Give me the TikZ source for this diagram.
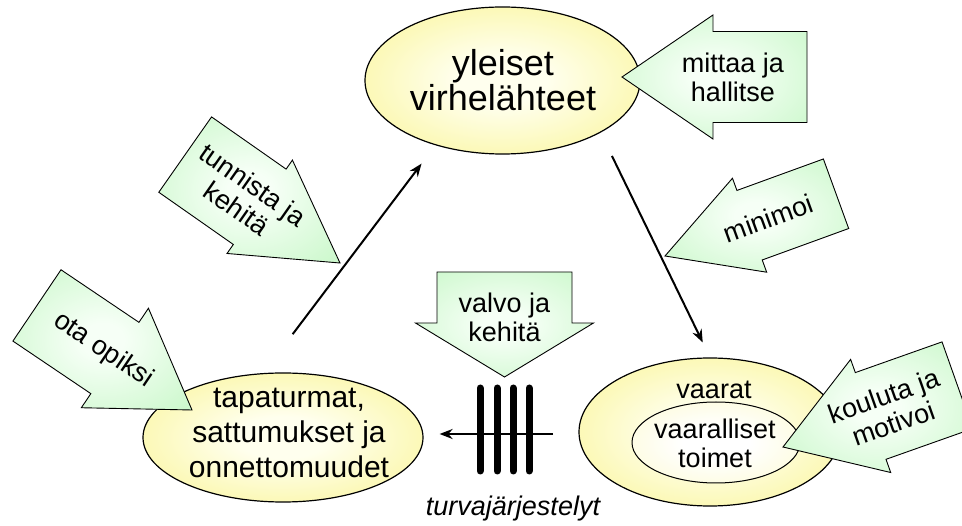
\documentclass[tikz,border=0pt]{standalone}
\usepackage{fontspec}
\setmainfont{Liberation Sans}
\usetikzlibrary{shapes.geometric,arrows.meta}

\definecolor{bubbleyellow}{RGB}{248,242,128}
\definecolor{bubblecore}{RGB}{255,255,238}
\definecolor{paleyellow}{RGB}{252,249,195}
\definecolor{leafgreen}{RGB}{192,246,192}
\definecolor{leafcore}{RGB}{246,255,246}

\pgfdeclareradialshading{bubbleshade}{\pgfpointorigin}{color(0bp)=(bubblecore); color(8bp)=(bubblecore); color(42bp)=(bubbleyellow); color(75bp)=(bubbleyellow)}
\pgfdeclareradialshading{coreshade}{\pgfpointorigin}{color(0bp)=(white); color(10bp)=(white); color(45bp)=(paleyellow); color(75bp)=(paleyellow)}
\pgfdeclareradialshading{leafshade}{\pgfpointorigin}{color(0bp)=(leafcore); color(6bp)=(leafcore); color(42bp)=(leafgreen); color(75bp)=(leafgreen)}

\tikzset{
  bubble/.style={ellipse, draw, line width=1.2pt, shade, shading=bubbleshade, inner sep=0pt},
  core/.style={shading=coreshade, line width=1pt},
  bubbletext/.style={inner sep=0pt, align=center, font=\fontsize{30}{35}\selectfont},
  arrowbody/.style={draw, line width=0.9pt, shade, shading=leafshade},
  arrowtext/.style={inner sep=0pt, align=center, font=\fontsize{27}{29}\selectfont},
  flow/.style={line width=2pt, -{Stealth[length=13pt,width=10pt]}},
  bar/.style={line width=7pt, line cap=round},
  % sizes of the big green arrows
  blen/.store in=\blen, blen=186,
  bhead/.store in=\bhead, bhead=93,
  bheadw/.store in=\bheadw, bheadw=60,
  bshaft/.store in=\bshaft, bshaft=45,
  btext/.store in=\btext, btext=112
}

% [sizes]{name}{tip}{direction}{text angle}{text}
\newcommand{\greenarrow}[6][]{%
  \begin{scope}[shift={#3}, rotate=#4, #1]
    \draw[arrowbody] (0,0) -- (-\bhead,\bheadw) -- (-\bhead,\bshaft) -- (-\blen,\bshaft)
      -- (-\blen,-\bshaft) -- (-\bhead,-\bshaft) -- (-\bhead,-\bheadw) -- cycle;
    \node[arrowtext, rotate=#5] (#2) at (-\btext,0) {#6};
  \end{scope}}

\begin{document}
\begin{tikzpicture}[x=1pt, y=-1pt]
\useasboundingbox (0,0) rectangle (962,526);

% the three bubbles
\node[bubble, minimum width=275pt, minimum height=147pt] (sources) at (502.5,80.5) {};
\node[bubbletext, font=\fontsize{36}{35}\selectfont] (sourcestext) at (503,80) {yleiset\\virhelähteet};
\node[bubble, minimum width=280pt, minimum height=129pt] (accidents) at (283,437.5) {};
\node[bubbletext] (accidentstext) at (289,433) {tapaturmat,\\sattumukset ja\\onnettomuudet};
\node[bubble, minimum width=262pt, minimum height=148pt] (hazards) at (710,432) {};
\node[bubble, core, minimum width=168pt, minimum height=81pt] (acts) at (716,442.5) {};
\node[arrowtext] (hazardstext) at (714,390) {vaarat};
\node[arrowtext] (actstext) at (715,443) {vaaralliset\\toimet};

% barrier
\foreach \x in {480,497,513,529}
  \draw[bar] (\x,388) -- (\x,471);
\coordinate (barrier) at (553,434);
\node[arrowtext, font=\fontsize{27}{29}\selectfont\itshape] (barriertext) at (513,509) {turvajärjestelyt};

% green arrows
\greenarrow[blen=185, bhead=91, bheadw=62, bshaft=45.5, btext=111]{measure}{(622,77)}{180}{0}{mittaa ja\\hallitse}
\greenarrow[blen=189, bhead=98, bheadw=57, bshaft=46, btext=116]{identify}{(340,263)}{-35}{-35}{tunnista ja\\kehitä}
\greenarrow[blen=187, bhead=93, bheadw=60, bshaft=43, btext=107]{learn}{(192,410)}{-34}{-34}{ota opiksi}
\greenarrow[blen=182, bhead=90, bheadw=50, bshaft=37, btext=110]{minimise}{(665,256)}{200}{20}{minimoi}
\greenarrow[blen=185, bhead=93, bheadw=60, bshaft=46, btext=112]{train}{(783,447)}{199.5}{19.5}{kouluta ja\\motivoi}
\greenarrow[blen=105, bhead=54, bheadw=89, bshaft=67.5, btext=60]{monitor}{(504.5,377)}{-90}{0}{valvo ja\\kehitä}

% the cycle
\draw[flow, shorten <=48.7pt, shorten >=23pt] (accidents.107.8) -- (sources.224.4);
\draw[flow, shorten <=25.9pt, shorten >=16.6pt] (sources.332.5) -- (hazards.90.6);
\draw[flow, shorten >=16pt] (barrier) -- (barrier -| accidents.east);
\end{tikzpicture}
\end{document}
